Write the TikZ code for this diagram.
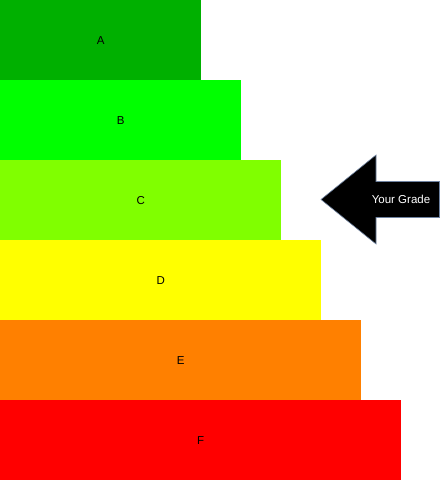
\documentclass[tikz,border=0pt]{standalone}
\usepackage{fontspec}
\setmainfont{Liberation Sans}
\definecolor{gA}{RGB}{0,176,0}
\definecolor{gB}{RGB}{0,255,0}
\definecolor{gC}{RGB}{128,255,0}
\definecolor{gD}{RGB}{255,255,0}
\definecolor{gE}{RGB}{255,128,0}
\definecolor{gF}{RGB}{255,0,0}
\definecolor{arrowline}{RGB}{110,130,160}
\begin{document}
\begin{tikzpicture}[x=1pt,y=-1pt,
  bar/.style={rectangle, draw=none, inner sep=0pt, anchor=north west, minimum height=80pt, font=\fontsize{11.5}{13}\selectfont},
  gradelabel/.style={text=white, inner sep=0pt, font=\fontsize{11.5}{13}\selectfont}]
\useasboundingbox (0,0) rectangle (441,481);
\node[bar, fill=gA, minimum width=201pt] (A) at (0,0) {A};
\node[bar, fill=gB, minimum width=241pt] (B) at (0,80) {B};
\node[bar, fill=gC, minimum width=281pt] (C) at (0,160) {C};
\node[bar, fill=gD, minimum width=321pt] (D) at (0,240) {D};
\node[bar, fill=gE, minimum width=361pt] (E) at (0,320) {E};
\node[bar, fill=gF, minimum width=401pt] (F) at (0,400) {F};
\draw[fill=black, draw=arrowline, line width=0.6pt, line join=miter]
  (321,199.5) -- (376,155) -- (376,181.5) -- (439.5,181.5) -- (439.5,217.5) -- (376,217.5) -- (376,244) -- cycle;
\node[gradelabel] (grade) at (401,199.5) {Your Grade};
\end{tikzpicture}
\end{document}
